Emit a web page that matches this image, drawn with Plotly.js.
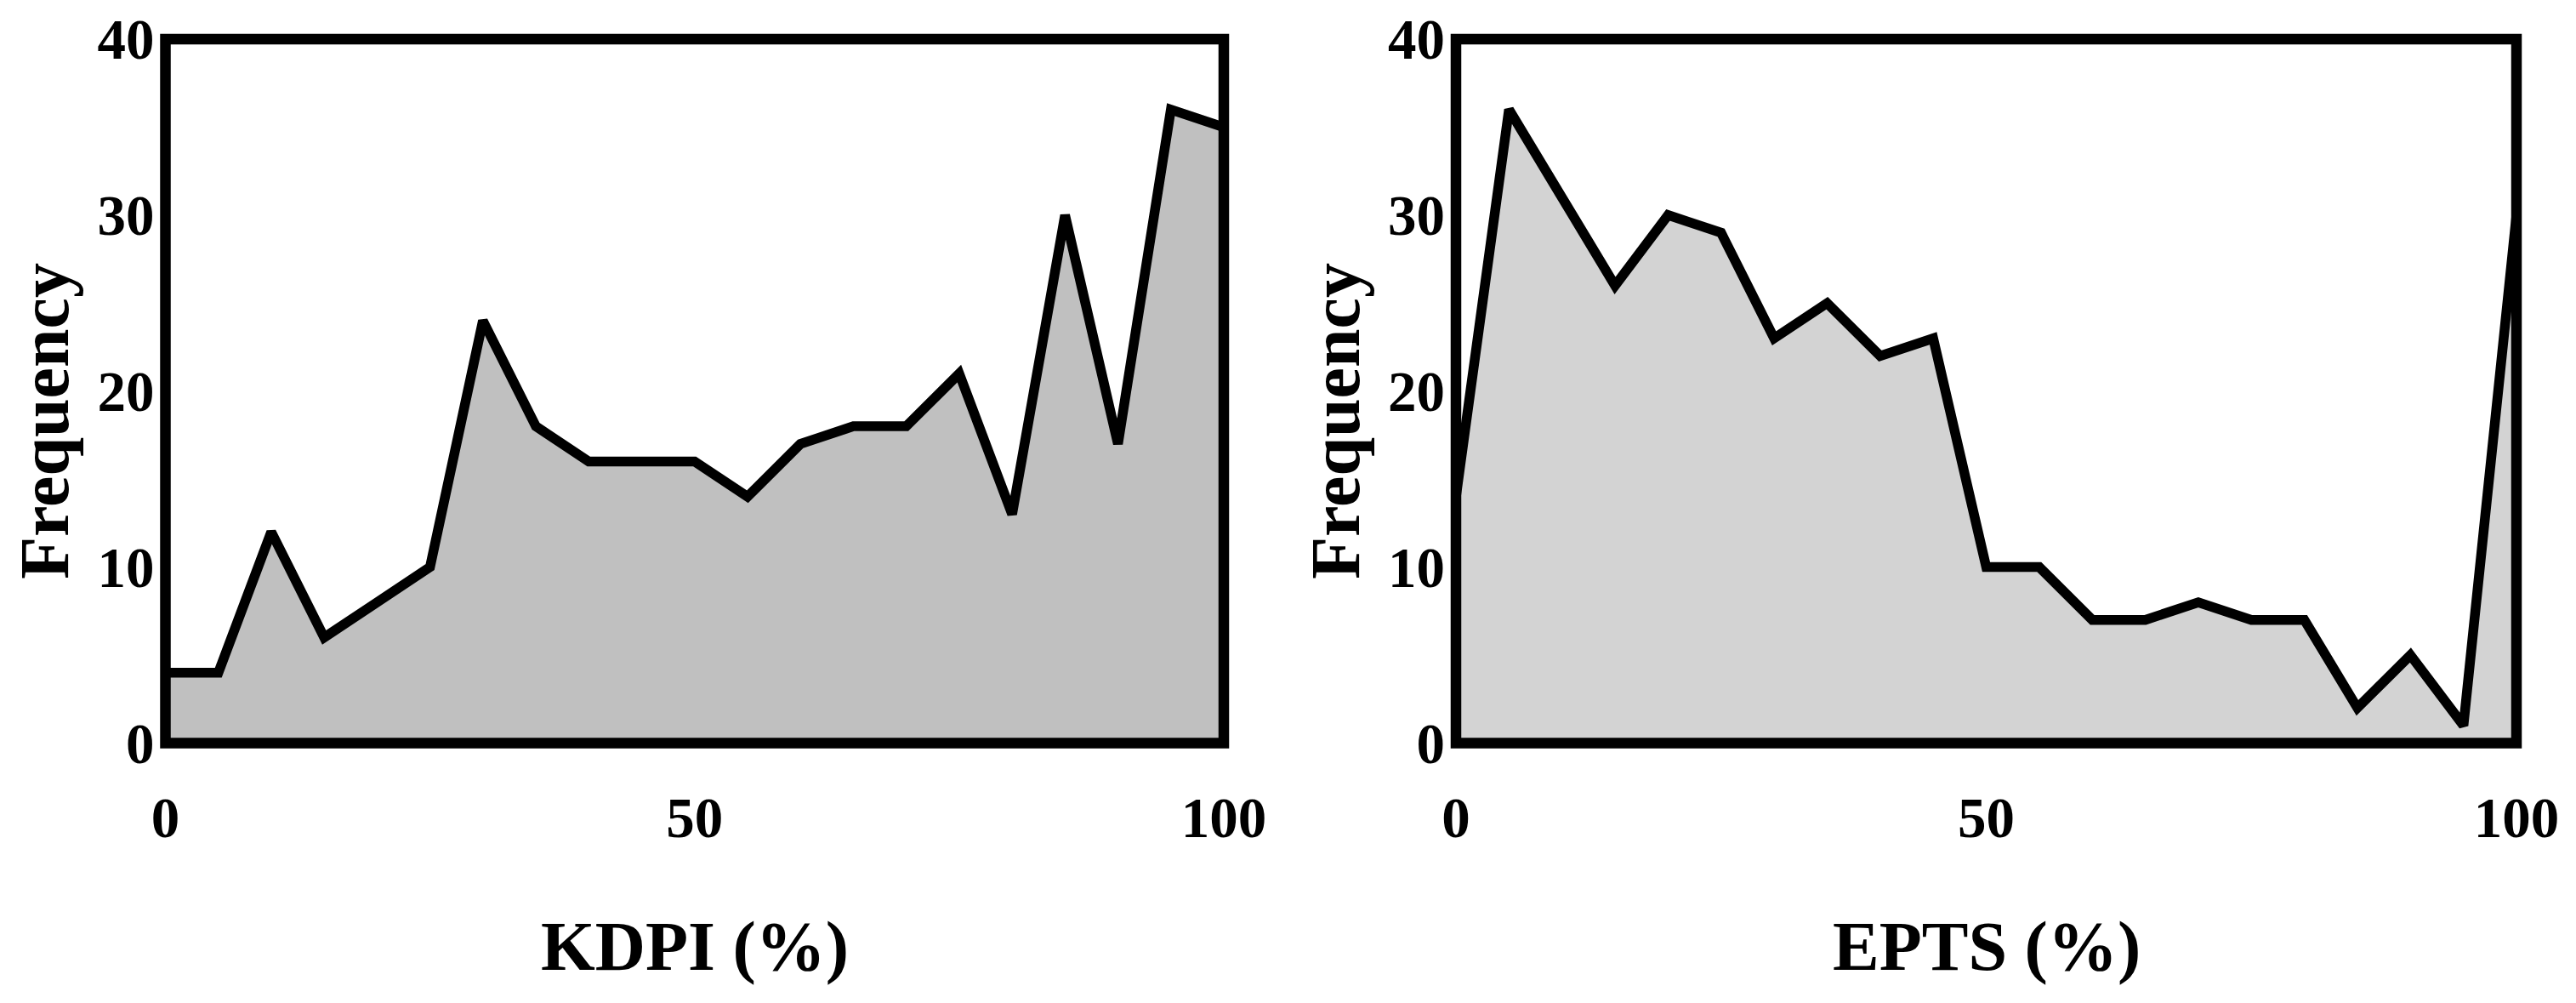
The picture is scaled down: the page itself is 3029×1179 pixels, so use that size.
<!DOCTYPE html>
<html>
<head>
<meta charset="utf-8">
<script src="https://cdn.plot.ly/plotly-3.0.1.min.js"></script>
<style>html,body{margin:0;padding:0;background:#fff;}#chart{width:3029px;height:1179px;}</style>
</head>
<body>
<div id="chart"></div>
<script>
// ---- data ----
const binX      = [0, 5, 10, 15, 20, 25, 30, 35, 40, 45, 50, 55, 60, 65, 70, 75, 80, 85, 90, 95, 100];
const kdpiFreq  = [4, 4, 12, 6, 8, 10, 24, 18, 16, 16, 16, 14, 17, 18, 18, 21, 13, 30, 17, 36, 35];
const eptsFreq  = [14, 36, 31, 26, 30, 29, 23, 25, 22, 23, 10, 10, 7, 7, 8, 7, 7, 2, 5, 1, 30];
const xTickVals = [0, 50, 100];
const yTickVals = [0, 10, 20, 30, 40];
const xTitles   = ['KDPI (%)', 'EPTS (%)'];
const yTitle    = 'Frequency';

const W = 3029, H = 1179;
const FONT = '"Liberation Serif", "Times New Roman", "DejaVu Serif", serif';
const tickFont = {family: FONT, size: 67, color: '#000', weight: 'bold'};
const titleFont = {family: FONT, size: 82, color: '#000', weight: 'bold'};

const traces = [
  {x: binX, y: kdpiFreq, type: 'scatter', mode: 'lines', fill: 'tozeroy',
   fillcolor: '#c0c0c0', line: {color: '#000', width: 11.5, shape: 'linear'},
   xaxis: 'x', yaxis: 'y', hoverinfo: 'skip'},
  {x: binX, y: eptsFreq, type: 'scatter', mode: 'lines', fill: 'tozeroy',
   fillcolor: '#d3d3d3', line: {color: '#000', width: 11.5, shape: 'linear'},
   xaxis: 'x2', yaxis: 'y2', hoverinfo: 'skip'}
];

const yDom = [(H - 873.5) / H, (H - 46) / H];
const xDom1 = [194.5 / W, 1439 / W];
const xDom2 = [1712 / W, 2959 / W];

function xAxis(dom, anchor) {
  return {domain: dom, anchor: anchor, range: [0, 100], tickvals: xTickVals,
          ticktext: xTickVals.map(String), showgrid: false, zeroline: false,
          showline: false, ticks: '', tickfont: tickFont, ticklabelstandoff: 42,
          fixedrange: true};
}
function yAxis(anchor) {
  return {domain: yDom, anchor: anchor, range: [0, 40], tickvals: yTickVals,
          ticktext: yTickVals.map(String), showgrid: false, zeroline: false,
          showline: false, ticks: '', tickfont: tickFont, ticklabelstandoff: 12,
          fixedrange: true};
}

const frame = (xr, yr) => ({type: 'rect', xref: xr + ' domain', yref: yr + ' domain',
  x0: 0, x1: 1, y0: 0, y1: 1, line: {color: '#000', width: 12.5}, fillcolor: 'rgba(0,0,0,0)',
  layer: 'above'});

const titleY = (H - 1112) / H;
const freqY = (H - 495) / H;
const annotations = [
  {text: xTitles[0], xref: 'paper', yref: 'paper', x: 816.5 / W, y: titleY,
   xanchor: 'center', yanchor: 'middle', showarrow: false, font: titleFont},
  {text: xTitles[1], xref: 'paper', yref: 'paper', x: 2335.5 / W, y: titleY,
   xanchor: 'center', yanchor: 'middle', showarrow: false, font: titleFont},
  {text: yTitle, xref: 'paper', yref: 'paper', x: 52 / W, y: freqY, textangle: -90,
   xanchor: 'center', yanchor: 'middle', showarrow: false, font: titleFont},
  {text: yTitle, xref: 'paper', yref: 'paper', x: 1570 / W, y: freqY, textangle: -90,
   xanchor: 'center', yanchor: 'middle', showarrow: false, font: titleFont}
];

const layout = {
  width: W, height: H, margin: {l: 0, r: 0, t: 0, b: 0, pad: 0},
  paper_bgcolor: '#fff', plot_bgcolor: '#fff', showlegend: false,
  xaxis: xAxis(xDom1, 'y'), yaxis: yAxis('x'),
  xaxis2: xAxis(xDom2, 'y2'), yaxis2: yAxis('x2'),
  shapes: [frame('x', 'y'), frame('x2', 'y2')],
  annotations: annotations,
  font: {family: FONT, color: '#000'}
};

Plotly.newPlot('chart', traces, layout, {staticPlot: true, displayModeBar: false});
</script>
</body>
</html>
